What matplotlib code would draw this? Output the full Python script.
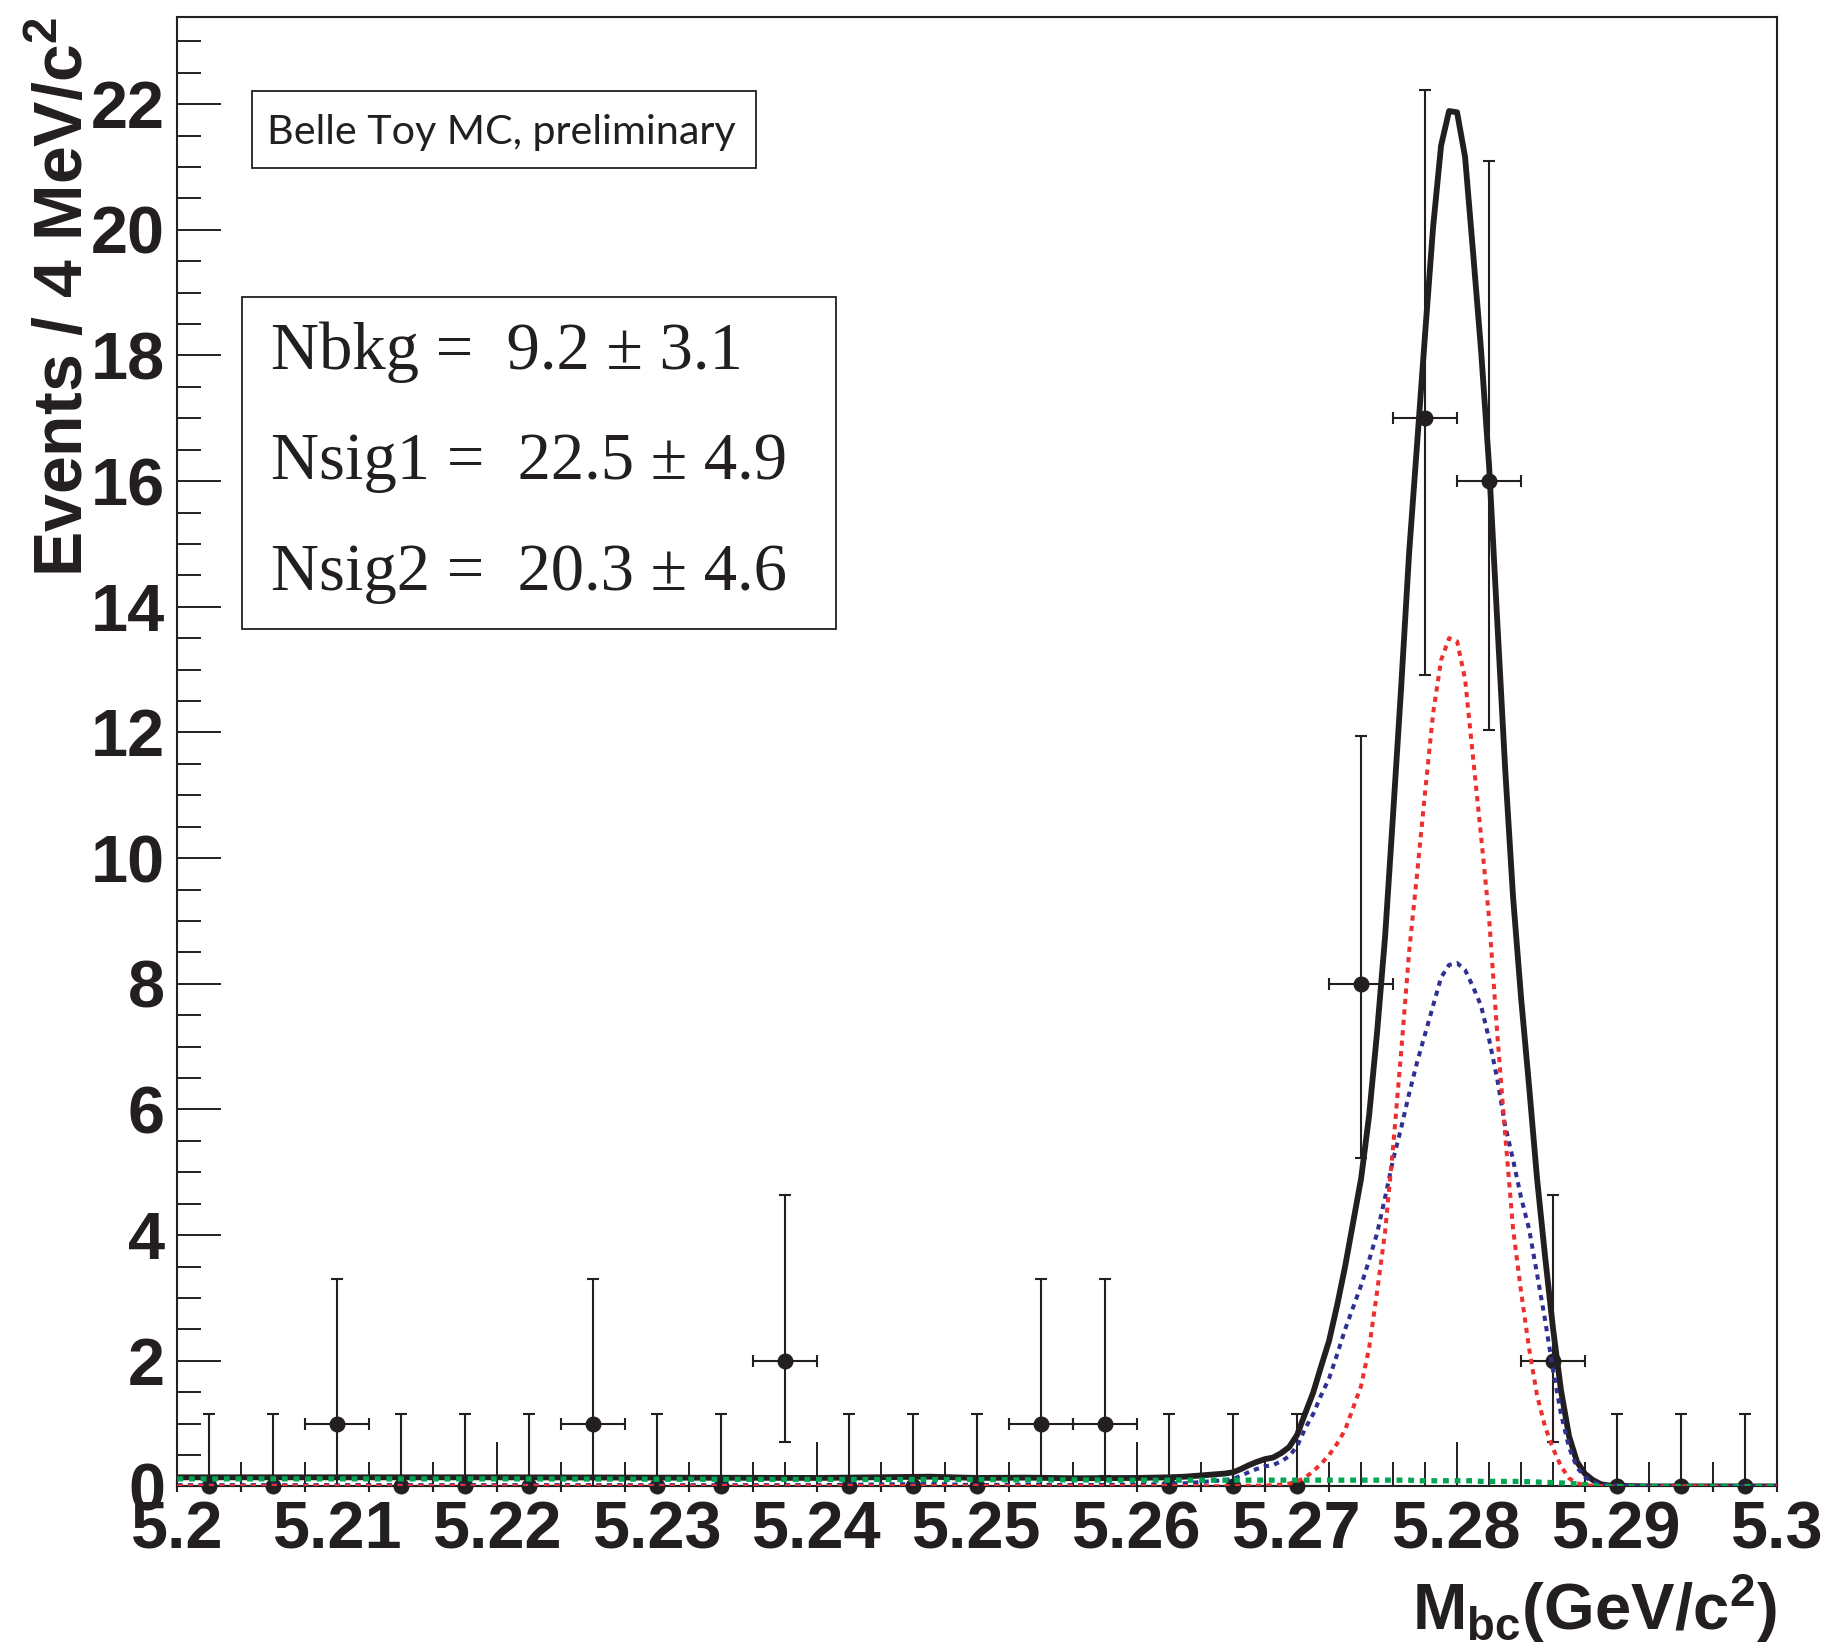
import matplotlib
matplotlib.use("Agg")
import matplotlib.pyplot as plt
from matplotlib.ticker import MultipleLocator, FuncFormatter
from matplotlib.patches import Rectangle

# binned toy MC data, 4 MeV bins
mbc_bins = [5.202, 5.206, 5.210, 5.214, 5.218, 5.222, 5.226, 5.230, 5.234,
            5.238, 5.242, 5.246, 5.250, 5.254, 5.258, 5.262, 5.266, 5.270,
            5.274, 5.278, 5.282, 5.286, 5.290, 5.294, 5.298]
counts = [0, 0, 1, 0, 0, 0, 1, 0, 0, 2, 0, 0, 0, 1, 1, 0, 0, 0,
          8, 17, 16, 2, 0, 0, 0]
# asymmetric poisson errors
err_low = [0, 0, 0.83, 0, 0, 0, 0.83, 0, 0, 1.29, 0, 0, 0, 0.83, 0.83, 0, 0, 0,
           2.77, 4.08, 3.96, 1.29, 0, 0, 0]
err_high = [1.15, 1.15, 2.30, 1.15, 1.15, 1.15, 2.30, 1.15, 1.15, 2.64, 1.15,
            1.15, 1.15, 2.30, 2.30, 1.15, 1.15, 1.15, 3.95, 5.22, 5.10, 2.64,
            1.15, 1.15, 1.15]
bin_half = 0.002

# fitted pdf components
fit_mbc = [5.200, 5.210, 5.220, 5.230, 5.240, 5.247, 5.250, 5.253, 5.256,
           5.260, 5.262, 5.263, 5.264,
           5.2650, 5.2655, 5.2660, 5.2665, 5.2670, 5.2675, 5.2680, 5.2685,
           5.2690, 5.2695, 5.2700, 5.2705, 5.2710, 5.2715, 5.2720, 5.2725,
           5.2730, 5.2735, 5.2740, 5.2745, 5.2750, 5.2755, 5.2760, 5.2765,
           5.2770, 5.2775, 5.2780, 5.2785, 5.2790, 5.2795, 5.2800, 5.2805,
           5.2810, 5.2815, 5.2820, 5.2825, 5.2830, 5.2835, 5.2840, 5.2845,
           5.2850, 5.2855, 5.2860, 5.2865, 5.2870, 5.2875, 5.2880, 5.2885,
           5.2890, 5.2895, 5.2900,
           5.291, 5.292, 5.295, 5.300]
sig1 = [0.005, 0.005, 0.005, 0.005, 0.005, 0.005, 0.005, 0.005, 0.005,
        0.005, 0.005, 0.005, 0.005,
        0.005, 0.005, 0.005, 0.008, 0.010, 0.012, 0.015, 0.020,
        0.030, 0.045, 0.080, 0.14, 0.24, 0.36, 0.50, 0.68,
        0.90, 1.25, 1.60, 2.20, 3.10, 4.05, 5.40, 6.90,
        8.50, 9.75, 11.05, 12.30, 13.15, 13.50, 13.45, 12.85,
        11.60, 10.35, 9.05, 7.25, 5.62, 4.10, 3.10, 2.20,
        1.45, 0.95, 0.60, 0.32, 0.13, 0.05, 0.02, 0.01,
        0.005, 0.0, 0.0,
        0.0, 0.0, 0.0, 0.0]
sig2 = [0.02, 0.02, 0.02, 0.02, 0.02, 0.04, 0.02, 0.03, 0.02,
        0.03, 0.04, 0.05, 0.07,
        0.09, 0.10, 0.12, 0.17, 0.23, 0.28, 0.32, 0.34,
        0.40, 0.48, 0.64, 0.92, 1.15, 1.45, 1.72, 2.10,
        2.50, 2.85, 3.20, 3.60, 4.03, 4.60, 5.20, 5.70,
        6.25, 6.75, 7.20, 7.65, 8.10, 8.30, 8.33, 8.22,
        7.95, 7.65, 7.12, 6.50, 5.75, 5.20, 4.60, 4.10,
        3.38, 2.65, 1.85, 1.15, 0.62, 0.30, 0.15, 0.07,
        0.03, 0.015, 0.01,
        0.005, 0.0, 0.0, 0.0]
bkg = [0.12, 0.12, 0.12, 0.115, 0.11, 0.11, 0.11, 0.105, 0.105,
       0.10, 0.10, 0.10, 0.10,
       0.10, 0.10, 0.10, 0.10, 0.10, 0.10, 0.10, 0.10,
       0.10, 0.10, 0.10, 0.10, 0.10, 0.10, 0.10, 0.10,
       0.10, 0.10, 0.10, 0.10, 0.10, 0.10, 0.10, 0.10,
       0.10, 0.09, 0.09, 0.09, 0.09, 0.09, 0.09, 0.09,
       0.09, 0.08, 0.08, 0.08, 0.08, 0.08, 0.08, 0.075,
       0.07, 0.065, 0.06, 0.055, 0.05, 0.04, 0.03, 0.02,
       0.0, 0.0, 0.0,
       0.0, 0.0, 0.0, 0.0]
total = [s1 + s2 + b for s1, s2, b in zip(sig1, sig2, bkg)]

fit_results = ["Nbkg =  9.2 \u00b1 3.1",
               "Nsig1 =  22.5 \u00b1 4.9",
               "Nsig2 =  20.3 \u00b1 4.6"]

plt.rcParams["font.family"] = "Liberation Sans"
plt.rcParams["mathtext.fontset"] = "custom"
plt.rcParams["mathtext.rm"] = "Liberation Sans:bold"
plt.rcParams["mathtext.it"] = "Liberation Sans:bold"
plt.rcParams["mathtext.bf"] = "Liberation Sans:bold"

fig = plt.figure(figsize=(18.31, 16.45), dpi=100)
ax = fig.add_axes([0.0969, 0.0964, 0.8736, 0.8930])

ink = "#231f20"
ax.errorbar(mbc_bins, counts, yerr=[err_low, err_high], xerr=bin_half,
            fmt="o", color=ink, ms=10.5, elinewidth=1.5, capsize=4,
            capthick=1.5, clip_on=False, zorder=2)

ax.plot(fit_mbc, total, color=ink, lw=4.2, zorder=3,
        solid_joinstyle="round")
ax.plot(fit_mbc, sig2, color="#2e3192", lw=2.9, dashes=(1.3, 1.3), zorder=4)
ax.plot(fit_mbc, sig1, color="#ed2f2f", lw=2.9, dashes=(1.3, 1.3), zorder=5)
ax.plot(fit_mbc, bkg, color="#00a651", lw=3.8, dashes=(1.1, 1.1), zorder=6)

ax.set_xlim(5.2, 5.3)
ax.set_ylim(0, 23.38)
ax.xaxis.set_major_locator(MultipleLocator(0.01))
ax.xaxis.set_minor_locator(MultipleLocator(0.002))
ax.yaxis.set_major_locator(MultipleLocator(2))
ax.yaxis.set_minor_locator(MultipleLocator(0.5))
ax.xaxis.set_major_formatter(FuncFormatter(lambda v, p: f"{v:g}"))
ax.yaxis.set_major_formatter(FuncFormatter(lambda v, p: f"{v:g}"))

ax.tick_params(which="both", direction="in", width=1.4, color=ink,
               top=False, right=False)
ax.tick_params(which="major", length=31.5)
ax.tick_params(which="minor", length=17)
ax.tick_params(axis="x", which="major", pad=10, labelsize=48)
ax.tick_params(axis="y", which="major", pad=9, labelsize=48)
for lab in ax.get_xticklabels() + ax.get_yticklabels():
    lab.set_fontweight("bold")
    lab.set_color(ink)
for sp in ax.spines.values():
    sp.set_linewidth(1.5)
    sp.set_color(ink)

ax.set_ylabel("Events / 4 MeV/c$^{2}$", fontsize=49, fontweight="bold",
              color=ink, loc="top")
ax.yaxis.set_label_coords(-0.050, 1.0)
ax.set_xlabel("M$_{\\rm bc}$(GeV/c$^{2}$)", fontsize=47, fontweight="bold",
              color=ink, loc="right")
ax.xaxis.set_label_coords(1.0, -0.058)

# "Belle Toy MC" label box
ax.add_patch(Rectangle((0.0466, 0.8976), 0.3148, 0.0524, transform=ax.transAxes,
                       facecolor="white", edgecolor=ink, lw=1.3, zorder=7))
ax.text(0.0562, 0.9140, "Belle Toy MC, preliminary", transform=ax.transAxes,
        fontsize=29.7, family="Lato", color=ink, va="baseline", zorder=8)

# fit yields box
ax.add_patch(Rectangle((0.0402, 0.5835), 0.3715, 0.2265, transform=ax.transAxes,
                       facecolor="white", edgecolor=ink, lw=1.3, zorder=7))
for txt, yb in zip(fit_results, [0.7607, 0.6860, 0.6105]):
    ax.text(0.0584, yb, txt, transform=ax.transAxes, fontsize=48,
            family="Liberation Serif", color=ink, va="baseline", zorder=8)

fig.savefig("out.png", dpi=100)
